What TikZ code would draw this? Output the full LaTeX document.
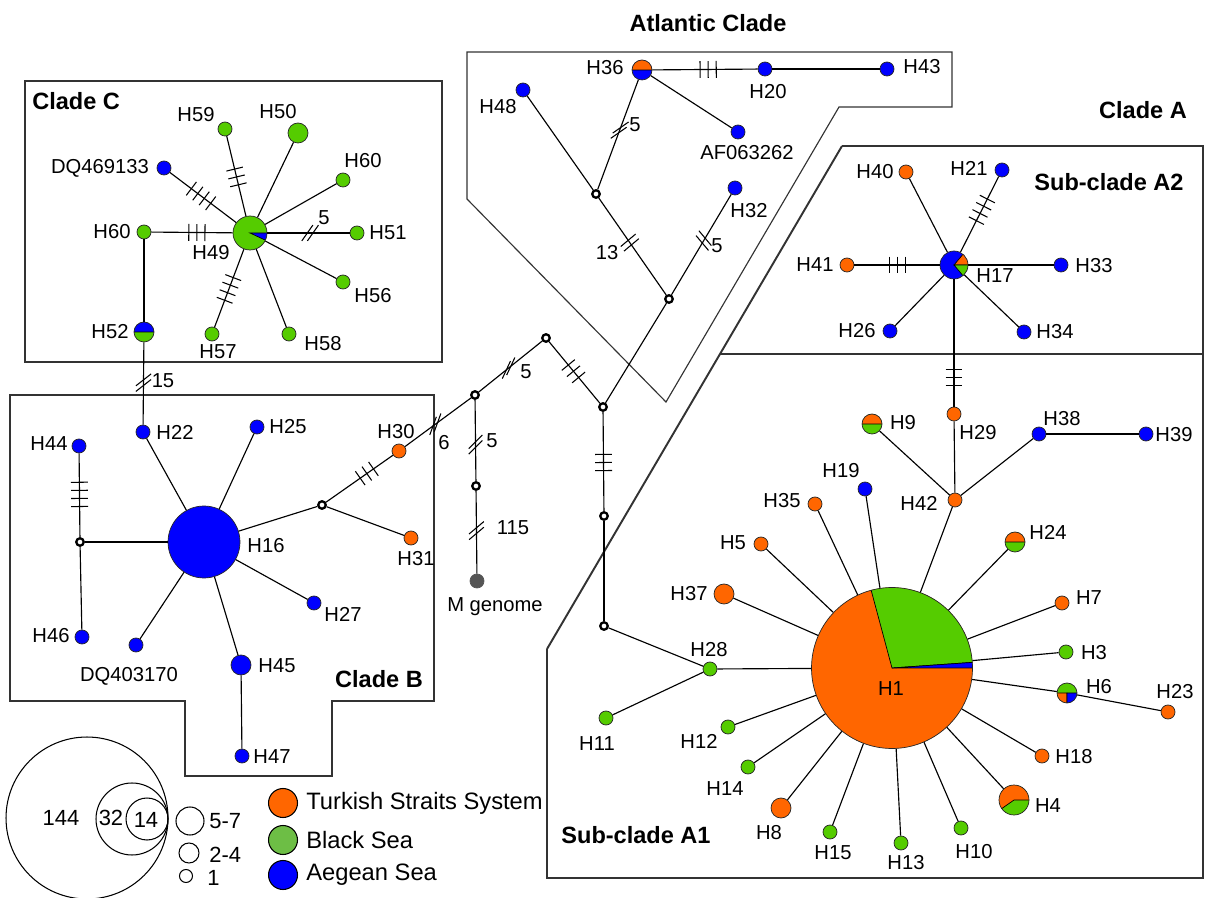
\documentclass[tikz,border=0pt]{standalone}
\usepackage{fontspec}
\setmainfont{Liberation Sans}
\usetikzlibrary{decorations.markings}
\definecolor{TSS}{HTML}{FF6600}
\definecolor{BSea}{HTML}{55CC00}
\definecolor{BSeaKey}{HTML}{6DBE45}
\definecolor{AegSea}{HTML}{0000FF}
\definecolor{MGen}{HTML}{555555}
\definecolor{BoxLine}{HTML}{333333}
\newcommand{\hapslice}[3]{\fill[#1,draw=black,line width=0.4pt]
  (path picture bounding box.center) -- ++(#2:4cm)
  arc[start angle=#2,end angle=#3,radius=4cm] -- cycle;}

\begin{document}
\begin{tikzpicture}[x=0.02cm,y=-0.02cm,
    every node/.style={font=\fontsize{11.5}{13}\selectfont},
    hap/.style={circle,draw=black!85,line width=0.4pt,inner sep=0pt,minimum size=#1},
    hap/.default=0.28cm,
    mv/.style={circle,draw=black,fill=white,line width=1.3pt,inner sep=0pt,minimum size=0.15cm},
    lbl/.style={inner sep=0pt},
    title/.style={inner sep=0pt,font=\fontsize{13.4}{15}\selectfont\bfseries},
    keytxt/.style={inner sep=0pt,font=\fontsize{13.5}{15}\selectfont},
    keynum/.style={inner sep=0pt,font=\fontsize{12.5}{14}\selectfont},
    sizekey/.style={circle,draw=black,line width=0.6pt,inner sep=0pt,minimum size=#1},
    link/.style={line width=0.65pt},
    cladebox/.style={draw=BoxLine,line width=0.65pt},
    tickln/.style={line width=0.6pt},
    mutbars/.style 2 args={postaction={decorate,decoration={markings,
      mark=at position #1 with {\foreach \k in {1,...,#2}
        {\draw[tickln] ({(\k-(#2+1)/2)*4.6pt},-4.8pt) -- ++(0pt,9.6pt);}}}}},
    mutslash/.style 2 args={postaction={decorate,decoration={markings,
      mark=at position #1 with {\foreach \s in {-1.6pt,1.6pt}
        {\begin{scope}[xshift=\s]\pgftransformresetnontranslations
          \draw[tickln,rotate=#2] (-5.5pt,0pt) -- (5.5pt,0pt);\end{scope}}}}}}]
  \useasboundingbox (0,0) rectangle (1208,898);

  % clade outlines
  \draw[cladebox] (25,81) rectangle (442,362);
  \draw[cladebox] (10,395) -- (434,395) -- (434,701) -- (332,701) -- (332,776)
    -- (185,776) -- (185,701) -- (10,701) -- cycle;
  \draw[cladebox] (467,52) -- (952,52) -- (952,107) -- (839,107) -- (666,402)
    -- (467,199) -- cycle;
  \draw[cladebox] (842,146) -- (1203,146) -- (1203,878) -- (547,878) -- (547,649);
  \draw[cladebox,line width=1.1pt] (547,649) -- (842,146);
  \draw[cladebox] (720,354) -- (1203,354);

  \node[title,anchor=west] (tClC) at (32,101) {Clade C};
  \node[title] (tClB) at (379,679) {Clade B};
  \node[title] (tAtl) at (708,23) {Atlantic Clade};
  \node[title] (tClA) at (1143,110) {Clade A};
  \node[title] (tA2) at (1109,182) {Sub-clade A2};
  \node[title] (tA1) at (636,835) {Sub-clade A1};

  % haplotypes
  \node[hap=3.22cm,fill=TSS,path picture={\hapslice{BSea}{4}{105}\hapslice{AegSea}{0}{4}}]
    (H1) at (892,668) {};
  \node[hap=1.44cm,fill=AegSea] (H16) at (204,542) {};
  \node[hap=0.68cm,fill=BSea,path picture={\hapslice{AegSea}{-25}{0}}] (H49) at (250,233) {};
  \node[hap=0.56cm,fill=AegSea,path picture={\hapslice{TSS}{0}{50}\hapslice{BSea}{-50}{0}}]
    (H17) at (954,265) {};
  \node[hap=0.6cm,fill=BSea,path picture={\hapslice{TSS}{0}{215}}] (H4) at (1014,800) {};
  \node[hap=0.4cm,fill=BSea,path picture={\hapslice{AegSea}{0}{180}}] (H52) at (144,332) {};
  \node[hap=0.4cm,fill=AegSea,path picture={\hapslice{TSS}{0}{180}}] (H36) at (642,70) {};
  \node[hap=0.4cm,fill=BSea,path picture={\hapslice{TSS}{0}{180}}] (H9) at (872,424) {};
  \node[hap=0.4cm,fill=BSea,path picture={\hapslice{TSS}{0}{180}}] (H24) at (1015,542) {};
  \node[hap=0.4cm,fill=BSea,path picture={\hapslice{TSS}{180}{270}\hapslice{AegSea}{270}{360}}]
    (H6) at (1067,693) {};
  \foreach \n/\c/\x/\y in {H50/BSea/298/133, H45/AegSea/241/665, H37/TSS/724/594, H8/TSS/781/808}
    \node[hap=0.4cm,fill=\c] (\n) at (\x,\y) {};
  \foreach \n/\x/\y in {H59/225/129, H60a/343/180, H60b/144/232, H51/357/233, H56/343/282,
      H58/289/334, H57/212/334, H28/710/669, H3/1066/652, H11/606/718, H12/728/727,
      H14/748/767, H15/830/832, H13/901/843, H10/961/828}
    \node[hap,fill=BSea] (\n) at (\x,\y) {};
  \foreach \n/\x/\y in {H30/399/451, H31/411/538, H40/906/172, H41/847/265, H29/954/414,
      H42/955/500, H35/815/504, H5/761/544, H7/1062/603, H23/1168/712, H18/1042/756}
    \node[hap,fill=TSS] (\n) at (\x,\y) {};
  \foreach \n/\x/\y in {DQ469133/164/168, H22/143/432, H25/257/427, H44/79/446, H46/82/637,
      DQ403170/136/645, H47/242/756, H27/314/603, H48/523/90, H20/765/69, H43/887/69,
      AF063262/738/132, H32/735/188, H21/1002/170, H33/1061/265, H26/890/331,
      H34/1024/332, H38/1039/434, H39/1146/434, H19/865/489}
    \node[hap,fill=AegSea] (\n) at (\x,\y) {};
  \node[hap,fill=MGen,draw=MGen] (Mg) at (477,581) {};
  \foreach \n/\x/\y in {ma/322/505, mb/475/395, mc/546/338, md/603/407, me/476/486,
      mf/80/542, mg/604/516, mh/604/626, mk/596/194, ml/669/299}
    \node[mv] (\n) at (\x,\y) {};

  % labels
  \foreach \t/\x/\y in {H59/196/115, H50/278/112, DQ469133/100/168, H49/211/253, H51/388/233,
      H56/373/296, H58/323/344, H57/218/352, H52/110/332, H22/175/432, H25/288/427,
      H44/49/444, H46/51/636, DQ403170/129/676, H45/277/666, H47/272/757, H27/343/614,
      H16/266/546, H30/396/432, H31/416/559, H36/605/68, H20/768/92, H43/922/67,
      H48/498/107, AF063262/747/153, H32/749/211, H40/875/172, H21/969/168, H41/815/265,
      H33/1094/266, H26/857/331, H34/1055/332, H17/995/276, H29/978/433, H9/903/423,
      H42/919/503, H38/1062/419, H39/1174/435, H19/841/471, H35/782/501, H5/733/543,
      H37/689/594, H28/709/650, H11/597/744, H12/699/741, H14/725/789, H8/769/833,
      H15/833/853, H13/906/863, H10/974/852, H4/1048/806, H18/1074/757, H23/1175/692,
      H6/1099/687, H3/1094/653, H7/1089/598, H24/1048/532, H1/891/689}
    \node[lbl] (t\t) at (\x,\y) {\t};
  \node[lbl] (tH60a) at (363,161) {H60};
  \node[lbl] (tH60b) at (112,232) {H60};
  \node[lbl] (tMg) at (495,607) {M genome};
  \foreach \n/\t/\x/\y in {nA/5/324/218, nB/15/163/381, nC/6/444/443, nD/5/526/372,
      nE/5/492/441, nF/115/513/528, nG/5/635/125, nH/13/607/253, nI/5/717/246}
    \node[lbl] (\n) at (\x,\y) {\t};

  % links
  \foreach \a/\b in {H49/H50, H49/H60a, H49/H56, H49/H58, H60b/H52,
      H16/H22, H16/H25, H16/mf, H16/DQ403170, H16/H45, H16/H27, H16/ma, H45/H47,
      mf/H46, ma/H31, mg/mh, mh/H28, md/ml, H20/H43, H36/AF063262, mk/H48,
      H17/H40, H17/H33, H17/H26, H17/H34, H29/H42, H9/H42, H38/H42, H38/H39,
      H42/H1, H1/H35, H1/H19, H1/H5, H1/H24, H1/H37, H1/H7, H1/H28, H1/H3, H1/H6,
      H6/H23, H1/H12, H1/H18, H1/H14, H1/H4, H1/H8, H1/H15, H1/H13, H1/H10, H28/H11}
    \draw[link] (\a) -- (\b);
  \draw[link,mutbars={0.44}{3}] (H49) -- (H60b);
  \draw[link,mutbars={0.49}{3}] (H49) -- (H59);
  \draw[link,mutbars={0.53}{4}] (H49) -- (DQ469133);
  \draw[link,mutbars={0.51}{4}] (H49) -- (H57);
  \draw[link,mutbars={0.49}{4}] (H44) -- (mf);
  \draw[link,mutbars={0.61}{3}] (ma) -- (H30);
  \draw[link,mutbars={0.48}{3}] (mc) -- (md);
  \draw[link,mutbars={0.51}{3}] (md) -- (mg);
  \draw[link,mutbars={0.53}{3}] (H36) -- (H20);
  \draw[link,mutbars={0.56}{4}] (H17) -- (H21);
  \draw[link,mutbars={0.49}{3}] (H17) -- (H41);
  \draw[link,mutbars={0.77}{3}] (H17) -- (H29);
  \draw[link,mutslash={0.52}{55}] (H49) -- (H51);
  \draw[link,mutslash={0.49}{38}] (H52) -- (H22);
  \draw[link,mutslash={0.46}{70}] (H30) -- (mb);
  \draw[link,mutslash={0.47}{65}] (mb) -- (mc);
  \draw[link,mutslash={0.55}{45}] (mb) -- (me);
  \draw[link,mutslash={0.48}{40}] (me) -- (Mg);
  \draw[link,mutslash={0.46}{35}] (H36) -- (mk);
  \draw[link,mutslash={0.46}{40}] (mk) -- (ml);
  \draw[link,mutslash={0.54}{130}] (ml) -- (H32);

  % key
  \node[sizekey=3.24cm] (k144) at (87,818) {};
  \node[sizekey=1.44cm] (k32) at (132,819) {};
  \node[sizekey=0.84cm] (k14) at (147,819) {};
  \node[sizekey=0.56cm] (k57) at (190,821) {};
  \node[sizekey=0.4cm] (k24) at (189,853) {};
  \node[sizekey=0.26cm] (k1) at (186,876) {};
  \node[keynum] (t144) at (61,818) {144};
  \node[keynum] (t32) at (111,818) {32};
  \node[keynum] (t14) at (146,820) {14};
  \node[keynum,anchor=west] (t57) at (209,821) {5-7};
  \node[keynum,anchor=west] (t24) at (209,855) {2-4};
  \node[keynum,anchor=west] (t1) at (207,878) {1};
  \foreach \n/\c/\y/\t in {kT/TSS/803/Turkish Straits System, kB/BSeaKey/840/Black Sea,
      kA/AegSea/875/Aegean Sea}{
    \node[sizekey=0.58cm,fill=\c] (\n) at (283,\y) {};
    \node[keytxt,anchor=west] (t\n) at (306,\y) {\t};}
\end{tikzpicture}
\end{document}
